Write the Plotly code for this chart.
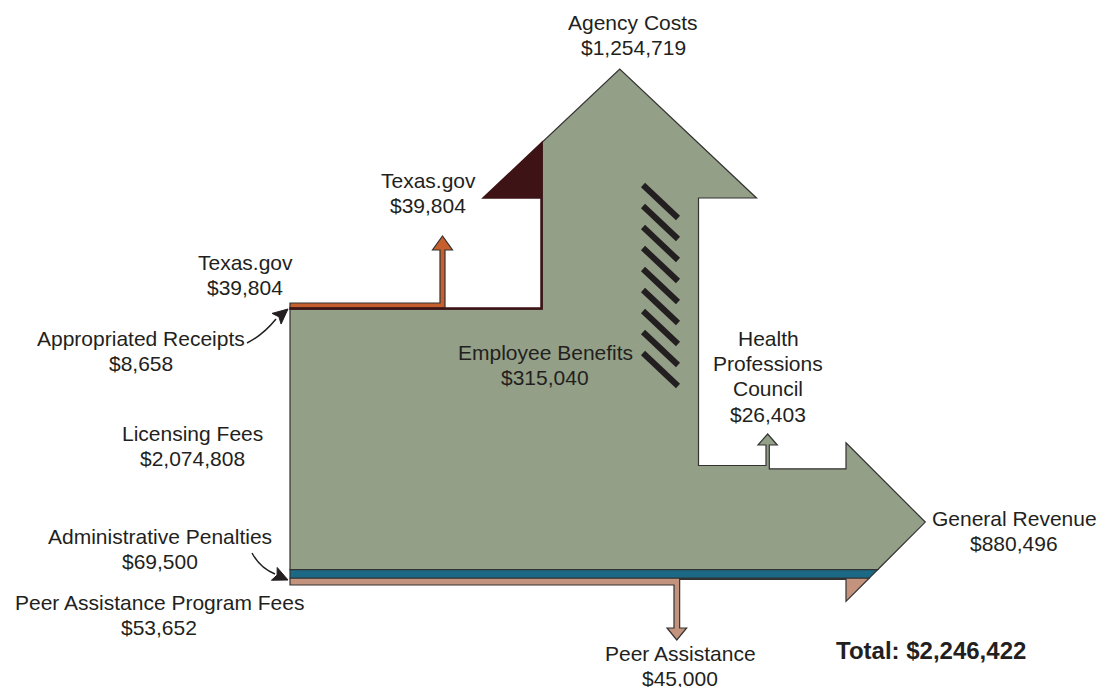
import math
import plotly.graph_objects as go

# ---------------- data ----------------
inflow_labels = ["Texas.gov", "Appropriated Receipts", "Licensing Fees",
                 "Administrative Penalties", "Peer Assistance Program Fees"]
inflow_values = [39804, 8658, 2074808, 69500, 53652]
outflow_labels = ["Texas.gov", "Agency Costs", "Employee Benefits",
                  "Health Professions Council", "General Revenue", "Peer Assistance"]
outflow_values = [39804, 1254719, 315040, 26403, 880496, 45000]
total_value = 2246422

tx_in, ar_in, lic_in, ap_in, pa_in = inflow_values
tx_out, ac_out, eb_out, hpc_out, gr_out, pa_out = outflow_values

# ---------------- colours / style ----------------
C_GREEN = "#939f87"
C_TEAL = "#1b6985"
C_PINK = "#c4937d"
C_ORANGE = "#c65f2e"
C_DARK = "#3d1315"
C_LINE = "#333333"
C_TEXT = "#231f20"
FONT = "Liberation Sans, Arial, sans-serif"

W, H = 1099, 687
S = 282.0 / total_value          # pixels per dollar (band thickness scale)

# ---------------- layout anchors ----------------
X0, Y0 = 290, 303                 # left edge / top of inflow stack
X_TX = 440                        # Texas.gov out-branch
X_SL = 541                        # agency shaft left
Y_AB, Y_AT, AWING = 198, 69, 58   # agency arrow base / tip / wing
X_HPC = 766
Y_HPC_TIP = 434
X_GR, GWING_T, GWING_B = 846, 26, 22
X_PA = 674
Y_PA_TIP = 640

# band boundaries on the left side
y_or = Y0 + tx_in * S
y_dk = y_or + ar_in * S
y_gr = y_dk + lic_in * S
y_tl = y_gr + ap_in * S
y_pk = y_tl + pa_in * S

# agency shaft
x_g = X_SL + ar_in * S
x_sr = X_SL + ac_out * S
y_ic = y_dk + (ac_out - ar_in) * S     # inner corner of green
ax_l = X_SL - AWING
ax_r = x_sr + AWING
ax_c = (X_SL + x_sr) / 2
def diag_left_y(x):
    return Y_AB - (x - ax_l) * (Y_AB - Y_AT) / (ax_c - ax_l)

# HPC branch
y_h2 = y_ic + hpc_out * S
# pink remainder after peer assistance
y_pr = y_tl + (pa_in - pa_out) * S
# General revenue arrowhead
y_tw = y_h2 - GWING_T
y_bw = y_pr + GWING_B
half = (y_bw - y_tw) / 2
tip_x, tip_y = X_GR + half, y_tw + half
def xd(y):
    return tip_x - (y - tip_y)


def up_arrow(xl, w, y_head_base, y_tip, wing):
    """points (clockwise from shaft-left) of an upward arrow head"""
    xr = xl + w
    xc = (xl + xr) / 2
    return [(xl, y_head_base), (xl - wing, y_head_base), (xc, y_tip),
            (xr + wing, y_head_base), (xr, y_head_base)]


def path(points):
    return "M " + " L ".join(f"{x:.2f},{y:.2f}" for x, y in points) + " Z"


shapes = []

def poly(points, fill, line=C_LINE, lw=1.2):
    shapes.append(dict(type="path", path=path(points), fillcolor=fill,
                       line=dict(color=line, width=lw), xref="x", yref="y",
                       layer="above"))

# ---- green main body ----
w_h = hpc_out * S
green = [(X0, y_dk), (x_g, y_dk), (x_g, diag_left_y(x_g)), (ax_c, Y_AT),
         (ax_r, Y_AB), (x_sr, Y_AB), (x_sr, y_ic), (X_HPC, y_ic)]
green += up_arrow(X_HPC, w_h, Y_HPC_TIP + 11, Y_HPC_TIP, 8)
green += [(X_HPC + w_h, y_h2), (X_GR, y_h2), (X_GR, y_tw), (tip_x, tip_y),
          (xd(y_gr), y_gr), (X0, y_gr)]
poly(green, C_GREEN)

# ---- teal (administrative penalties) ----
poly([(X0, y_gr), (xd(y_gr), y_gr), (xd(y_tl), y_tl), (X0, y_tl)], C_TEAL)

# ---- pink (peer assistance fees) ----
w_pa = pa_out * S
pink = [(X0, y_tl), (xd(y_tl), y_tl), (X_GR, y_bw), (X_GR, y_pr),
        (X_PA + w_pa, y_pr), (X_PA + w_pa, Y_PA_TIP - 12),
        (X_PA + w_pa + 7, Y_PA_TIP - 12), (X_PA + w_pa / 2, Y_PA_TIP),
        (X_PA - 7, Y_PA_TIP - 12), (X_PA, Y_PA_TIP - 12), (X_PA, y_pk), (X0, y_pk)]
poly(pink, C_PINK)

# ---- orange (Texas.gov) ----
w_tx = tx_in * S
orange = [(X0, Y0), (X_TX, Y0)]
orange += up_arrow(X_TX, w_tx, 250, 236, 7.5)
orange += [(X_TX + w_tx, y_or), (X0, y_or)]
poly(orange, C_ORANGE)

# ---- dark (appropriated receipts into agency costs) ----
dark = [(X0, y_or), (X_SL, y_or), (X_SL, Y_AB), (ax_l, Y_AB),
        (x_g, diag_left_y(x_g)), (x_g, y_dk), (X0, y_dk)]
poly(dark, C_DARK, line=C_DARK, lw=1.5)

# ---- employee benefits hatch ----
n_hatch = 9
for i in range(n_hatch):
    y = 185 + 21 * i
    shapes.append(dict(type="line", x0=643, y0=y, x1=678, y1=y + 33,
                       line=dict(color=C_TEXT, width=6), xref="x", yref="y",
                       layer="above"))

# ---- curved pointer arrows ----
def pointer(curve, tip, direction, length=15, hw=7):
    shapes.append(dict(type="path", path=curve, line=dict(color=C_TEXT, width=1.5),
                       xref="x", yref="y", layer="above"))
    dx, dy = direction
    n = math.hypot(dx, dy)
    dx, dy = dx / n, dy / n
    bx, by = tip[0] - length * dx, tip[1] - length * dy
    px, py = -dy, dx
    pts = [tip, (bx + hw * px, by + hw * py), (bx + 3 * dx, by + 3 * dy),
           (bx - hw * px, by - hw * py)]
    shapes.append(dict(type="path", path=path(pts), fillcolor=C_TEXT,
                       line=dict(color=C_TEXT, width=1), xref="x", yref="y",
                       layer="above"))

pointer("M 247,343 Q 263,335 276,319", (288, 309), (1, -0.85))
pointer("M 252,553 Q 260,568 275,574", (288, 580), (1, 0.45))

# ---------------- text ----------------
annotations = []
LS = 25.4

def label(lines, x, y, size=21, bold=False):
    for i, t in enumerate(lines):
        annotations.append(dict(
            x=x, y=y + i * LS, xref="x", yref="y", text=f"<b>{t}</b>" if bold else t,
            showarrow=False, xanchor="center", yanchor="middle",
            font=dict(family=FONT, size=size, color=C_TEXT)))

def money(v):
    return f"${v:,.0f}"

label([outflow_labels[1], money(ac_out)], 633, 22)
label([outflow_labels[0], money(tx_out)], 428, 180)
label([inflow_labels[0], money(tx_in)], 245, 262)
label([inflow_labels[1], money(ar_in)], 141, 338)
label([outflow_labels[2], money(eb_out)], 545, 352)
label(["Health", "Professions", "Council", money(hpc_out)], 768, 338)
label([inflow_labels[2], money(lic_in)], 192, 433)
label([inflow_labels[3], money(ap_in)], 160, 536)
label([inflow_labels[4], money(pa_in)], 159, 602)
label([outflow_labels[4], money(gr_out)], 1014, 518)
label([outflow_labels[5], money(pa_out)], 680, 653)
label([f"Total: {money(total_value)}"], 931, 650, size=24, bold=True)

fig = go.Figure()
fig.add_trace(go.Scatter(x=[0, W], y=[0, H], mode="markers",
                         marker=dict(opacity=0), hoverinfo="skip", showlegend=False))
fig.update_layout(
    width=W, height=H, margin=dict(l=0, r=0, t=0, b=0),
    paper_bgcolor="white", plot_bgcolor="white",
    xaxis=dict(range=[0, W], visible=False, fixedrange=True),
    yaxis=dict(range=[H, 0], visible=False, fixedrange=True),
    shapes=shapes, annotations=annotations, showlegend=False,
    hovermode=False,
)
fig.write_html("out.html",
               config={"displayModeBar": False, "staticPlot": True},
               post_script="document.body.style.margin='0px';"
                           "document.body.style.overflow='hidden';")
